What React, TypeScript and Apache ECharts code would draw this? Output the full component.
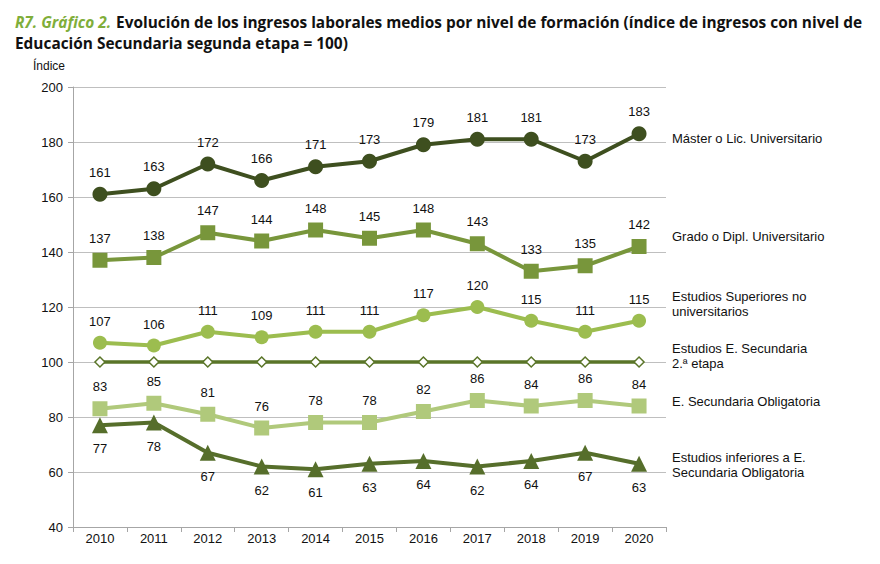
import React, { useEffect, useRef } from "react";
import * as echarts from "echarts";

const years = ["2010", "2011", "2012", "2013", "2014", "2015", "2016", "2017", "2018", "2019", "2020"];
const master = [161, 163, 172, 166, 171, 173, 179, 181, 181, 173, 183];
const grado = [137, 138, 147, 144, 148, 145, 148, 143, 133, 135, 142];
const superiores = [107, 106, 111, 109, 111, 111, 117, 120, 115, 111, 115];
const secundaria2 = [100, 100, 100, 100, 100, 100, 100, 100, 100, 100, 100];
const obligatoria = [83, 85, 81, 76, 78, 78, 82, 86, 84, 86, 84];
const inferiores = [77, 78, 67, 62, 61, 63, 64, 62, 64, 67, 63];

const seriesNames = [
  "Máster o Lic. Universitario",
  "Grado o Dipl. Universitario",
  "Estudios Superiores no\nuniversitarios",
  "Estudios E. Secundaria\n2.ª etapa",
  "E. Secundaria Obligatoria",
  "Estudios inferiores a E.\nSecundaria Obligatoria",
];

const FONT = "'Liberation Sans', Arial, sans-serif";
const labelStyle = { show: true, color: "#111", fontSize: 13, fontFamily: FONT };

export default function App() {
  const ref = useRef<HTMLDivElement>(null);
  useEffect(() => {
    document.body.style.margin = "0";
    if (!ref.current) return;
    const chart = echarts.init(ref.current, null, { renderer: "svg" });
    chart.setOption({
      animation: false,
      backgroundColor: "#fff",
      title: {
        text: "{g|R7. Gráfico 2.} {b|Evolución de los ingresos laborales medios por nivel de formación (índice de ingresos con nivel de}\n{b|Educación Secundaria segunda etapa = 100)}",
        left: 10,
        top: 7,
        textStyle: {
          rich: {
            g: { color: "#7fae3a", fontStyle: "italic", fontWeight: "bold", fontSize: 15.4, fontFamily: "'Open Sans', sans-serif", lineHeight: 21 },
            b: { color: "#111", fontWeight: "bold", fontSize: 15.4, fontFamily: "'Open Sans', sans-serif", lineHeight: 21 },
          },
        },
      },
      grid: { left: 73, right: 214, top: 87, bottom: 37, containLabel: false },
      xAxis: {
        type: "category",
        data: years,
        boundaryGap: true,
        axisLine: { lineStyle: { color: "#a6a6a6", width: 1 } },
        axisTick: { show: true, length: 5, lineStyle: { color: "#a6a6a6" } },
        axisLabel: { color: "#111", fontSize: 13, fontFamily: FONT, margin: 5 },
      },
      yAxis: {
        type: "value",
        min: 40,
        max: 200,
        interval: 20,
        axisLine: { show: true, lineStyle: { color: "#a6a6a6" } },
        axisTick: { show: true, length: 5, lineStyle: { color: "#a6a6a6" } },
        axisLabel: { color: "#111", fontSize: 13, fontFamily: FONT, margin: 10 },
        splitLine: { lineStyle: { color: "#bfbfbf", width: 1 } },
      },
      series: [
        {
          name: seriesNames[0], type: "line", data: master, symbol: "circle", symbolSize: 15,
          lineStyle: { color: "#3e4f1f", width: 4 }, itemStyle: { color: "#3e4f1f" },
          label: { ...labelStyle, position: "top", distance: 8 },
        },
        {
          name: seriesNames[1], type: "line", data: grado, symbol: "rect", symbolSize: 15,
          lineStyle: { color: "#78963b", width: 4 }, itemStyle: { color: "#78963b" },
          label: { ...labelStyle, position: "top", distance: 8 },
        },
        {
          name: seriesNames[2], type: "line", data: superiores, symbol: "circle", symbolSize: 14,
          lineStyle: { color: "#9cbd4f", width: 4 }, itemStyle: { color: "#9cbd4f" },
          label: { ...labelStyle, position: "top", distance: 8 },
        },
        {
          name: seriesNames[3], type: "line", data: secundaria2, symbol: "diamond", symbolSize: 10,
          lineStyle: { color: "#5a7528", width: 3.5 },
          itemStyle: { color: "#fff", borderColor: "#5a7528", borderWidth: 1.5 },
          label: { show: false },
        },
        {
          name: seriesNames[4], type: "line", data: obligatoria, symbol: "rect", symbolSize: 15,
          lineStyle: { color: "#b0c97b", width: 4 }, itemStyle: { color: "#b0c97b" },
          label: { ...labelStyle, position: "top", distance: 8 },
        },
        {
          name: seriesNames[5], type: "line", data: inferiores, symbol: "triangle", symbolSize: 16,
          lineStyle: { color: "#566e2b", width: 4 }, itemStyle: { color: "#566e2b" },
          label: { ...labelStyle, position: "bottom", distance: 9 },
        },
      ],
      graphic: [
        { type: "text", left: 33, top: 60, style: { text: "Índice", fill: "#111", font: `12px ${FONT}` } },
        { type: "text", left: 672, top: 132, style: { text: seriesNames[0], fill: "#111", font: `13px ${FONT}` } },
        { type: "text", left: 672, top: 230, style: { text: seriesNames[1], fill: "#111", font: `13px ${FONT}` } },
        { type: "text", left: 672, top: 289, style: { text: seriesNames[2], fill: "#111", font: `13px ${FONT}`, lineHeight: 15 } },
        { type: "text", left: 672, top: 341, style: { text: seriesNames[3], fill: "#111", font: `13px ${FONT}`, lineHeight: 15 } },
        { type: "text", left: 672, top: 395, style: { text: seriesNames[4], fill: "#111", font: `13px ${FONT}` } },
        { type: "text", left: 672, top: 450, style: { text: seriesNames[5], fill: "#111", font: `13px ${FONT}`, lineHeight: 15 } },
      ],
    });
    return () => chart.dispose();
  }, []);
  return <div ref={ref} style={{ width: 880, height: 564 }} />;
}
